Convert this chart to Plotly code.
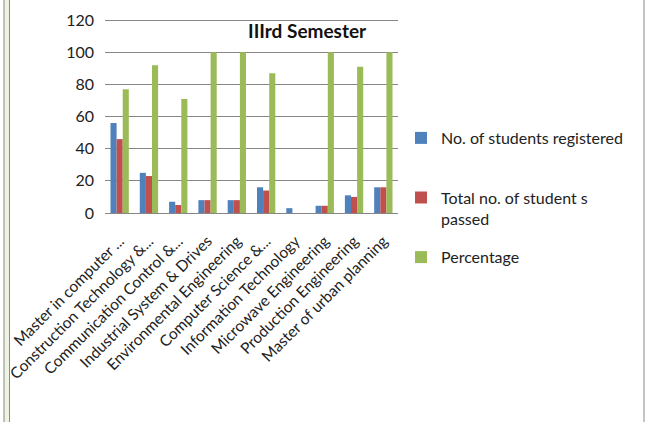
import plotly.graph_objects as go

categories = [
    "Master in computer ...",
    "Construction Technology &...",
    "Communication Control &...",
    "Industrial System & Drives",
    "Environmental Engineering",
    "Computer Science &...",
    "Information Technology",
    "Microwave Engineering",
    "Production Engineering",
    "Master of urban planning",
]
registered = [56, 25, 7, 8, 8, 16, 3, 4.5, 11, 16]
passed = [46, 23, 5, 8, 8, 14, 0, 4.5, 10, 16]
percentage = [77, 92, 71, 100, 100, 87, 0, 100, 91, 100]

series_names = ["No. of students registered<br> ", "Total no. of student s<br>passed", "Percentage"]
colors = ["#4F81BD", "#C0504D", "#9BBB59"]

FONT = "Lato, 'Open Sans', sans-serif"
W, H = 645, 422
L, R, T, B = 105, 247, 17, 209
PW = W - L - R
PH = H - T - B

def px_x(p):
    return (p - L) / PW

def px_y(p):
    return (H - B - p) / PH

fig = go.Figure()
for name, vals, col, g in zip(series_names, [registered, passed, percentage], colors, ["a", "b", "c"]):
    fig.add_trace(go.Bar(x=categories, y=vals, name=name, marker=dict(color=col, line=dict(width=0)),
                         legendgroup=g))

fig.update_layout(
    template="none",
    width=W, height=H,
    margin=dict(l=L, r=R, t=T, b=B, autoexpand=False),
    paper_bgcolor="white", plot_bgcolor="white",
    barmode="group", bargap=0.375, bargroupgap=0,
    font=dict(family=FONT, size=15, color="#222"),
    showlegend=True,
    legend=dict(x=px_x(401), y=px_y(121), xanchor="left", yanchor="top",
                font=dict(family=FONT, size=16, color="#222"),
                valign="top", tracegroupgap=15, bgcolor="rgba(0,0,0,0)"),
    annotations=[dict(text="<b>IIIrd Semester</b>", x=px_x(307), y=px_y(31), xref="paper", yref="paper",
                      xanchor="center", yanchor="middle",
                      showarrow=False, font=dict(family=FONT, size=19, color="#111"))],
    shapes=[
        dict(type="rect", xref="paper", yref="paper", x0=px_x(4), x1=px_x(9.5), y0=-2, y1=2,
             fillcolor="#EEF3E2", line=dict(width=0)),
        dict(type="line", xref="paper", yref="paper", x0=px_x(4), x1=px_x(4), y0=-2, y1=2,
             line=dict(color="#8A8A8A", width=1)),
        dict(type="line", xref="paper", yref="paper", x0=px_x(9.5), x1=px_x(9.5), y0=-2, y1=2,
             line=dict(color="#8A8A8A", width=1)),
        dict(type="line", xref="paper", yref="paper", x0=px_x(644), x1=px_x(644), y0=-2, y1=2,
             line=dict(color="#8A8A8A", width=1)),
    ],
)
fig.update_yaxes(range=[0, 122], tickmode="linear", tick0=0, dtick=20, showgrid=True,
                 gridcolor="#868686", gridwidth=1,
                 zeroline=False, showline=False, ticks="", ticklabelstandoff=10,
                 tickfont=dict(family=FONT, size=16, color="#222"), fixedrange=True)
fig.update_xaxes(showline=True, linecolor="#868686", linewidth=1, tickangle=-45, ticks="",
                 showgrid=False, zeroline=False, ticklabelstandoff=12,
                 tickfont=dict(family=FONT, size=15.5, color="#222"), fixedrange=True)

fig.write_html("out.html", config={"displayModeBar": False},
               post_script="document.body.style.margin='0';document.body.style.overflow='hidden';")
